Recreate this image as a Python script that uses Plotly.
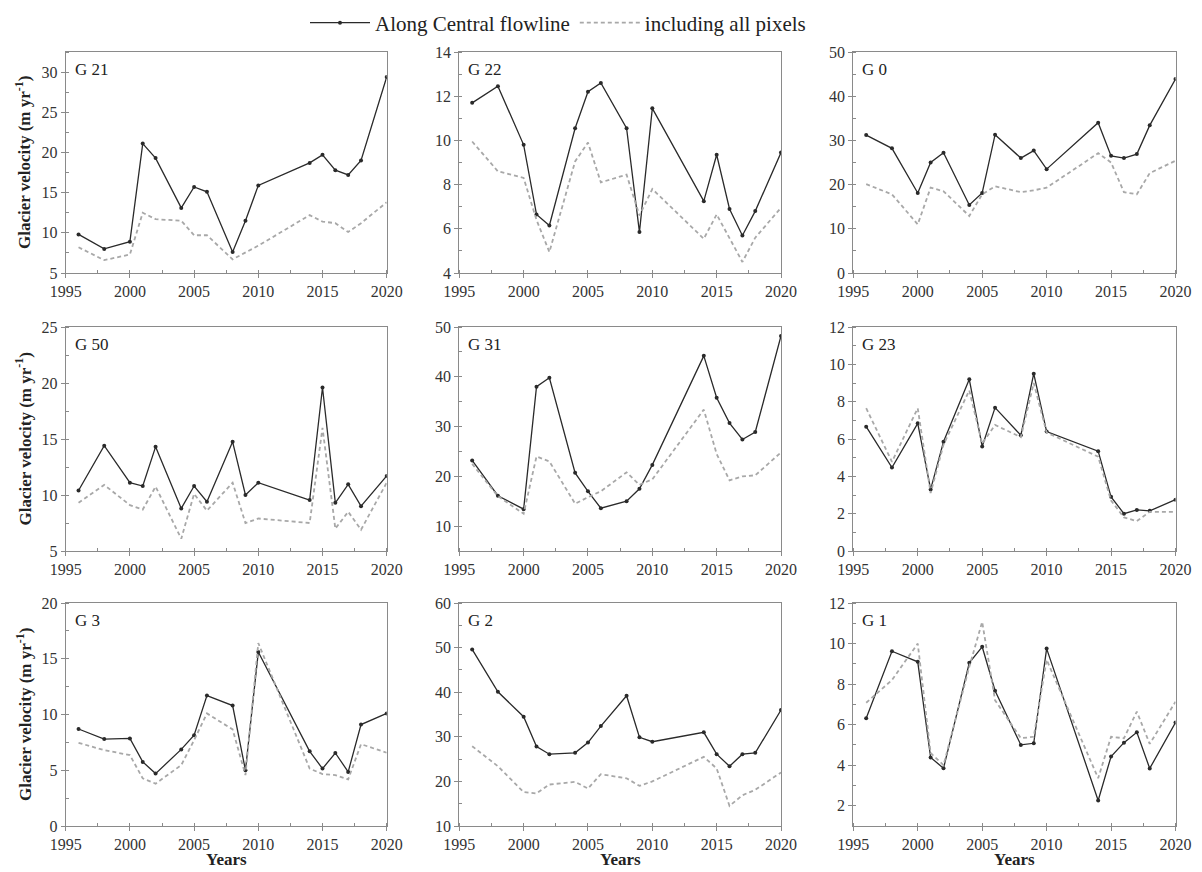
import plotly.graph_objects as go

# ---------------- data ----------------
years = [1996, 1998, 2000, 2001, 2002, 2004, 2005, 2006, 2008, 2009, 2010, 2014, 2015, 2016, 2017, 2018, 2020]

panel_names = ["G 21", "G 22", "G 0", "G 50", "G 31", "G 23", "G 3", "G 2", "G 1"]

g21_flow = [9.8, 8.0, 8.9, 21.1, 19.3, 13.1, 15.7, 15.1, 7.6, 11.5, 15.9, 18.7, 19.7, 17.8, 17.2, 19.0, 29.4]
g21_all  = [8.2, 6.6, 7.3, 12.5, 11.7, 11.5, 9.7, 9.7, 6.7, 7.6, 8.4, 12.2, 11.4, 11.2, 10.1, 11.2, 13.8]

g22_flow = [11.7, 12.45, 9.8, 6.65, 6.15, 10.55, 12.2, 12.6, 10.55, 5.85, 11.45, 7.25, 9.35, 6.9, 5.7, 6.8, 9.45]
g22_all  = [9.95, 8.6, 8.3, 6.4, 4.95, 9.05, 9.9, 8.1, 8.45, 6.6, 7.8, 5.55, 6.65, 5.6, 4.5, 5.6, 6.95]

g0_flow = [31.2, 28.2, 18.1, 25.0, 27.2, 15.4, 18.1, 31.3, 26.0, 27.7, 23.5, 34.0, 26.5, 26.0, 26.9, 33.4, 43.9]
g0_all  = [20.1, 17.8, 11.0, 19.3, 18.5, 12.9, 17.8, 19.6, 18.3, 18.7, 19.3, 27.1, 25.0, 18.3, 17.8, 22.6, 25.4]

g50_flow = [10.4, 14.4, 11.1, 10.8, 14.3, 8.8, 10.8, 9.4, 14.75, 10.0, 11.1, 9.55, 19.6, 9.3, 10.95, 9.0, 11.7]
g50_all  = [9.3, 10.9, 9.1, 8.7, 10.75, 6.1, 10.1, 8.6, 11.1, 7.5, 7.9, 7.5, 16.0, 7.0, 8.5, 6.9, 11.1]

g31_flow = [23.2, 16.1, 13.4, 38.0, 39.8, 20.7, 17.0, 13.6, 15.0, 17.5, 22.3, 44.2, 35.8, 30.7, 27.4, 28.9, 48.2]
g31_all  = [22.5, 16.0, 12.5, 24.0, 23.0, 14.5, 15.8, 17.0, 20.8, 18.3, 19.4, 33.4, 24.5, 19.2, 20.0, 20.2, 24.8]

g23_flow = [6.66, 4.47, 6.84, 3.3, 5.85, 9.2, 5.6, 7.68, 6.2, 9.5, 6.4, 5.35, 2.9, 2.0, 2.2, 2.15, 2.75]
g23_all  = [7.65, 4.78, 7.65, 3.1, 5.7, 8.6, 5.75, 6.75, 6.1, 9.0, 6.35, 5.05, 2.7, 1.8, 1.6, 2.1, 2.1]

g3_flow = [8.7, 7.8, 7.85, 5.75, 4.7, 6.87, 8.15, 11.7, 10.8, 5.0, 15.6, 6.7, 5.15, 6.55, 4.85, 9.1, 10.1]
g3_all  = [7.46, 6.8, 6.36, 4.27, 3.8, 5.46, 7.7, 10.1, 8.66, 4.57, 16.4, 5.15, 4.66, 4.57, 4.18, 7.34, 6.57]

g2_flow = [49.6, 40.1, 34.5, 27.8, 26.1, 26.4, 28.7, 32.4, 39.2, 29.9, 28.9, 31.0, 26.1, 23.4, 26.1, 26.4, 36.0]
g2_all  = [27.9, 23.4, 17.6, 17.3, 19.3, 19.9, 18.4, 21.6, 20.7, 19.0, 20.0, 25.5, 22.9, 14.5, 16.9, 18.1, 22.0]

g1_flow = [6.31, 9.62, 9.1, 4.38, 3.85, 9.05, 9.84, 7.67, 5.0, 5.08, 9.75, 2.26, 4.43, 5.11, 5.62, 3.84, 6.1]
g1_all  = [7.08, 8.2, 10.0, 4.6, 4.0, 8.85, 11.07, 7.2, 5.33, 5.4, 9.2, 3.36, 5.4, 5.33, 6.64, 5.05, 7.13]

flow_series = [g21_flow, g22_flow, g0_flow, g50_flow, g31_flow, g23_flow, g3_flow, g2_flow, g1_flow]
all_series = [g21_all, g22_all, g0_all, g50_all, g31_all, g23_all, g3_all, g2_all, g1_all]

y_ranges = [[5, 32.5], [4, 14], [0, 50], [5, 25], [5, 50], [0, 12], [0, 20], [10, 60], [1, 12]]
y_dticks = [5, 2, 10, 5, 10, 2, 5, 10, 2]

x_tick_labels = [1995, 2000, 2005, 2010, 2015, 2020]

legend_names = ["Along Central flowline", "including all pixels"]
y_title = "Glacier velocity (m yr<sup>-1</sup>)"
x_title = "Years"

# ---------------- layout geometry ----------------
W, H = 1202, 872
col_px = [(65.7, 386.7), (459.3, 781.0), (853.3, 1175.5)]
row_px = [(52, 273), (327, 551), (603, 826)]

FONT = "Liberation Serif, Times New Roman, serif"
AXIS_COL = "#8a8a8a"
TICK_COL = "#333333"
TITLE_COL = "#222222"

fig = go.Figure()
layout = dict(
    width=W, height=H,
    margin=dict(l=0, r=0, t=0, b=0, autoexpand=False),
    paper_bgcolor="white", plot_bgcolor="white",
    font=dict(family=FONT, size=16, color=TICK_COL),
    showlegend=True,
    hovermode=False,
    legend=dict(orientation="h", x=558 / W, xanchor="center", y=1 - 23 / H, yanchor="middle",
                font=dict(family=FONT, size=21, color=TITLE_COL),
                bgcolor="rgba(0,0,0,0)", itemwidth=60, tracegroupgap=0),
)
annotations = []

for i in range(9):
    r, c = divmod(i, 3)
    ax = "" if i == 0 else str(i + 1)
    xd = [col_px[c][0] / W, col_px[c][1] / W]
    yd = [1 - row_px[r][1] / H, 1 - row_px[r][0] / H]

    fig.add_trace(go.Scatter(
        x=years, y=flow_series[i], mode="lines+markers",
        line=dict(color="#2a2a2a", width=1.3),
        marker=dict(size=4, color="#2a2a2a"),
        name=legend_names[0], legendgroup="flow", showlegend=(i == 0),
        xaxis="x" + ax, yaxis="y" + ax))
    fig.add_trace(go.Scatter(
        x=years, y=all_series[i], mode="lines",
        line=dict(color="#a8a8a8", width=1.8, dash="4px,3px"),
        name=legend_names[1], legendgroup="all", showlegend=(i == 0),
        xaxis="x" + ax, yaxis="y" + ax))

    common = dict(showline=True, linecolor=AXIS_COL, linewidth=1, mirror=True,
                  showgrid=False, zeroline=False, ticks="outside", ticklen=4,
                  tickcolor=AXIS_COL, automargin=False,
                  tickfont=dict(family=FONT, size=16, color=TICK_COL))
    layout["xaxis" + ax] = dict(
        domain=xd, range=[1995, 2020], tickmode="array", tickvals=x_tick_labels,
        ticktext=[str(v) for v in x_tick_labels], anchor="y" + ax,
        minor=dict(tickmode="linear", tick0=1995, dtick=2.5, ticks="inside", ticklen=3,
                   tickcolor=AXIS_COL, showgrid=False),
        **common)
    layout["yaxis" + ax] = dict(
        domain=yd, range=y_ranges[i], tick0=0, dtick=y_dticks[i], anchor="x" + ax,
        minor=dict(tickmode="linear", tick0=0, dtick=y_dticks[i] / 2, ticks="inside", ticklen=3,
                   tickcolor=AXIS_COL, showgrid=False),
        **common)

    annotations.append(dict(
        text=panel_names[i], xref="x" + ax + " domain", yref="y" + ax + " domain",
        x=0.022, y=0.92, xanchor="left", yanchor="middle", showarrow=False,
        font=dict(family=FONT, size=17, color=TITLE_COL)))
    if c == 0:
        annotations.append(dict(
            text="<b>" + y_title + "</b>", textangle=-90,
            xref="paper", yref="y" + ax + " domain", x=23.5 / W, y=0.5,
            xanchor="center", yanchor="middle", showarrow=False,
            font=dict(family=FONT, size=17, color=TITLE_COL)))
    if r == 2:
        annotations.append(dict(
            text="<b>" + x_title + "</b>",
            xref="x" + ax + " domain", yref="paper", x=0.5, y=1 - 859 / H,
            xanchor="center", yanchor="middle", showarrow=False,
            font=dict(family=FONT, size=17, color=TITLE_COL)))

layout["annotations"] = annotations
fig.update_layout(**layout)
fig.write_html(
    "out.html",
    config={"displayModeBar": False, "staticPlot": False},
    post_script="document.body.style.margin='0';document.body.style.padding='0';"
                "document.documentElement.style.margin='0';document.body.style.overflow='hidden';",
)
